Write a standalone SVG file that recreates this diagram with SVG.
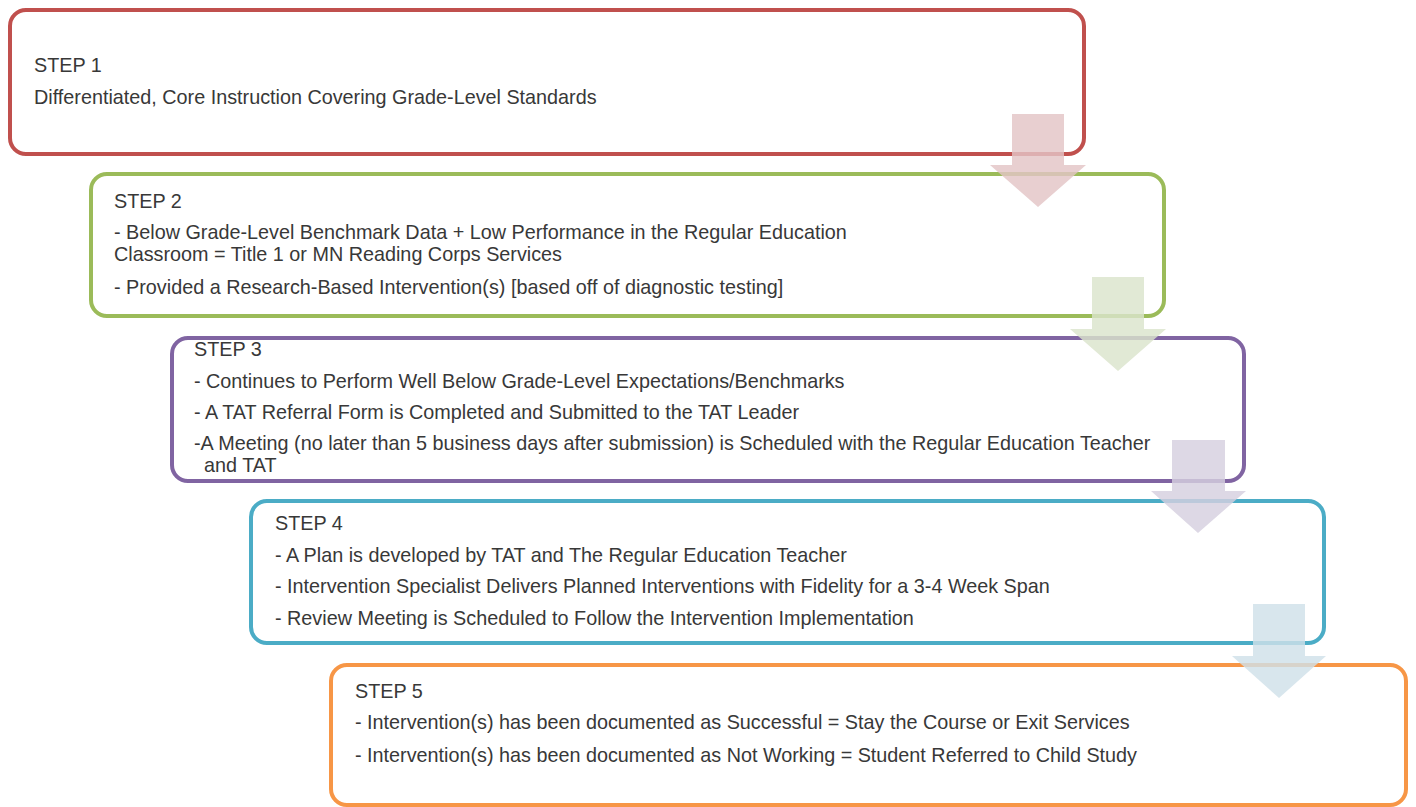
<svg xmlns="http://www.w3.org/2000/svg" width="1416" height="807" viewBox="0 0 1416 807">
<style>
.box{fill:#ffffff;stroke-width:4}
.t{font-family:"Liberation Sans",Arial,sans-serif;font-size:19.8px;fill:#383838}
.arr{opacity:0.82}
</style>
<rect width="1416" height="807" fill="#ffffff"/>
<g id="step1">
<rect class="box" x="10" y="10" width="1074" height="144" rx="16" stroke="#C0504D"/>
<text class="t" x="34" y="72">STEP 1</text>
<text class="t" x="34" y="104">Differentiated, Core Instruction Covering Grade-Level Standards</text>
</g>
<g id="step2">
<rect class="box" x="91" y="174" width="1073" height="142" rx="16" stroke="#9BBB59"/>
<text class="t" x="114" y="208">STEP 2</text>
<text class="t" x="114" y="239">- Below Grade-Level Benchmark Data + Low Performance in the Regular Education</text>
<text class="t" x="114" y="261">Classroom = Title 1 or MN Reading Corps Services</text>
<text class="t" x="114" y="294">- Provided a Research-Based Intervention(s) [based off of diagnostic testing]</text>
</g>
<g id="step3">
<rect class="box" x="172" y="338" width="1072" height="143" rx="16" stroke="#8064A2"/>
<text class="t" x="194" y="356">STEP 3</text>
<text class="t" x="194" y="388">- Continues to Perform Well Below Grade-Level Expectations/Benchmarks</text>
<text class="t" x="194" y="419">- A TAT Referral Form is Completed and Submitted to the TAT Leader</text>
<text class="t" x="194" y="450">-A Meeting (no later than 5 business days after submission) is Scheduled with the Regular Education Teacher</text>
<text class="t" x="204" y="472">and TAT</text>
</g>
<g id="step4">
<rect class="box" x="251" y="501" width="1073" height="142" rx="16" stroke="#4BACC6"/>
<text class="t" x="275" y="530">STEP 4</text>
<text class="t" x="275" y="562">- A Plan is developed by TAT and The Regular Education Teacher</text>
<text class="t" x="275" y="593">- Intervention Specialist Delivers Planned Interventions with Fidelity for a 3-4 Week Span</text>
<text class="t" x="275" y="625">- Review Meeting is Scheduled to Follow the Intervention Implementation</text>
</g>
<g id="step5">
<rect class="box" x="331" y="665" width="1075" height="140" rx="16" stroke="#F79646"/>
<text class="t" x="355" y="698">STEP 5</text>
<text class="t" x="355" y="729">- Intervention(s) has been documented as Successful = Stay the Course or Exit Services</text>
<text class="t" x="355" y="762">- Intervention(s) has been documented as Not Working = Student Referred to Child Study</text>
</g>
<g id="connectors">
<path class="arr" fill="#E3C5C6" d="M1012,114 H1064 V165 H1086 L1038,207 L990,165 H1012 Z"/>
<path class="arr" fill="#DAE4CC" d="M1092,277 H1144 V329 H1166 L1118,371 L1070,329 H1092 Z"/>
<path class="arr" fill="#D6D0DF" d="M1172,440 H1225 V491 H1246 L1198,533 L1151,491 H1172 Z"/>
<path class="arr" fill="#D0E1E9" d="M1253,604 H1305 V656 H1326 L1279,698 L1232,656 H1253 Z"/>
</g>
</svg>
